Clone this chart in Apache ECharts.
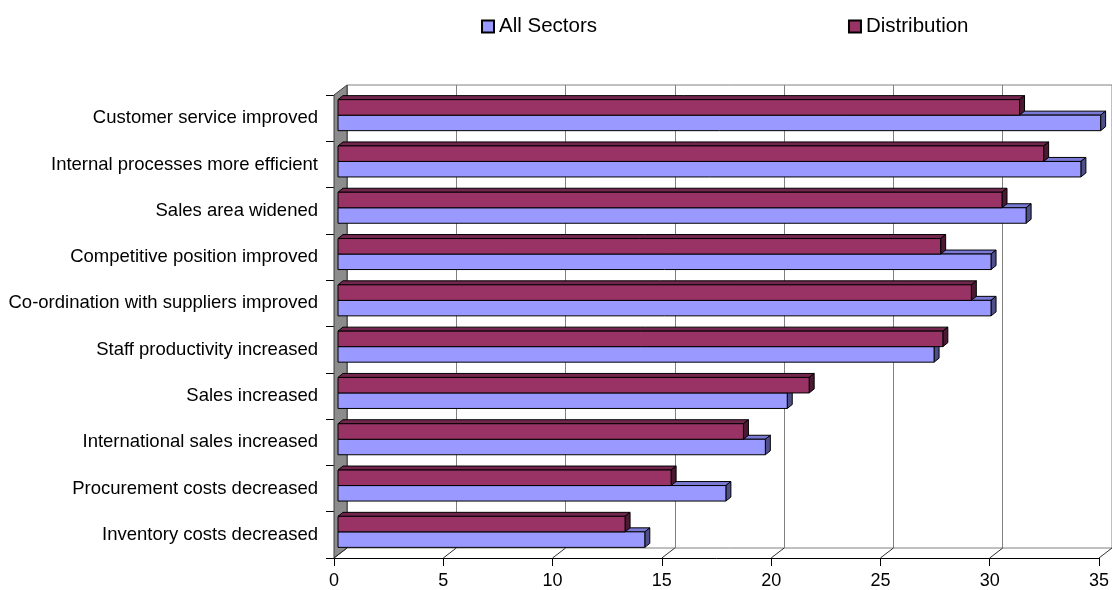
<!DOCTYPE html>
<html>
<head>
<meta charset="utf-8">
<title>E-business effects</title>
<script src="https://cdn.jsdelivr.net/npm/echarts@6/dist/echarts.min.js"></script>
<style>
  html, body { margin: 0; padding: 0; background: #fff; }
  #chart { width: 1112px; height: 590px; }
</style>
</head>
<body>
<div id="chart"></div>
<script>
// ---------------------------------------------------------------------------
// Data (top to bottom as in the picture)
// ---------------------------------------------------------------------------
const categories = [
  "Customer service improved",
  "Internal processes more efficient",
  "Sales area widened",
  "Competitive position improved",
  "Co-ordination with suppliers improved",
  "Staff productivity increased",
  "Sales increased",
  "International sales increased",
  "Procurement costs decreased",
  "Inventory costs decreased"
];
const allSectors   = [34.8, 33.9, 31.4, 29.8, 29.8, 27.2, 20.5, 19.5, 17.7, 14.0];
const distribution = [31.1, 32.2, 30.3, 27.5, 28.9, 27.6, 21.5, 18.5, 15.2, 13.1];
const xTicks = [0, 5, 10, 15, 20, 25, 30, 35];

const FONT = "Liberation Sans, Arial, sans-serif";
const DEPTH = [13, -10];   // front -> back wall offset
const BAR_DEPTH = [5, -4]; // bar prism depth

const chart = echarts.init(document.getElementById("chart"), null, { renderer: "canvas" });

// ---------------------------------------------------------------------------
// 3D-looking bar: front rect + top face + right face
// ---------------------------------------------------------------------------
function prismBar(upper, front, top, side) {
  return function (params, api) {
    const cat = api.value(1);
    const val = api.value(0);
    const start = api.coord([0, cat]);
    const end = api.coord([val, cat]);
    const h = api.size([0, 1])[1] * 0.335;
    const x0 = start[0], x1 = end[0];
    const y0 = upper ? start[1] - h : start[1];
    const y1 = y0 + h;
    const dx = BAR_DEPTH[0], dy = BAR_DEPTH[1];
    const edge = { stroke: "#000", lineWidth: 1 };
    return {
      type: "group",
      children: [
        { type: "polygon", shape: { points: [[x0, y0], [x0 + dx, y0 + dy], [x1 + dx, y0 + dy], [x1, y0]] },
          style: Object.assign({ fill: top }, edge) },
        { type: "polygon", shape: { points: [[x1, y0], [x1 + dx, y0 + dy], [x1 + dx, y1 + dy], [x1, y1]] },
          style: Object.assign({ fill: side }, edge) },
        { type: "rect", shape: { x: x0, y: y0, width: x1 - x0, height: h },
          style: Object.assign({ fill: front }, edge) }
      ]
    };
  };
}

// Left wall + floor diagonals, placed from the front axes
function frameRender(params, api) {
  const v = api.value(0);
  const band = api.size([0, 1])[1];
  const bottom = api.coord([v, categories.length - 1])[1] + band / 2;
  const x = api.coord([v, 0])[0];
  const children = [];
  if (v === 0) {
    const topY = api.coord([0, 0])[1] - band / 2;
    children.push({
      type: "polygon",
      shape: { points: [[x, topY], [x + DEPTH[0], topY + DEPTH[1]], [x + DEPTH[0], bottom + DEPTH[1]], [x, bottom]] },
      style: { fill: "#8c8c8c", stroke: "#404040", lineWidth: 1 }
    });
  }
  children.push({
    type: "line",
    shape: { x1: x, y1: bottom, x2: x + DEPTH[0], y2: bottom + DEPTH[1] },
    style: { stroke: "#303030", lineWidth: 1 }
  });
  return { type: "group", children: children };
}

const option = {
  backgroundColor: "#fff",
  animation: false,
  textStyle: { fontFamily: FONT },
  legend: {
    data: ["All Sectors", "Distribution"],
    left: 476,
    top: 11,
    itemGap: 251,
    itemWidth: 12,
    itemHeight: 12,
    icon: "rect",
    textStyle: { fontSize: 20.5, color: "#000", fontFamily: FONT }
  },
  grid: [
    { left: 334, top: 95, width: 767, height: 463 },                       // front
    { left: 347, top: 85, width: 767, height: 463, show: true,
      borderColor: "#808080", borderWidth: 1, backgroundColor: "transparent" }, // back wall
    { left: 338, top: 92, width: 767, height: 463 }                        // bars
  ],
  xAxis: [
    {
      gridIndex: 0, type: "value", min: 0, max: 35, interval: 5,
      axisLine: { show: true, lineStyle: { color: "#000" } },
      axisTick: { show: true, length: 8, lineStyle: { color: "#000" } },
      axisLabel: { fontSize: 18, color: "#000", margin: 14, fontFamily: FONT },
      splitLine: { show: false }
    },
    {
      gridIndex: 1, type: "value", min: 0, max: 35, interval: 5,
      axisLine: { show: false }, axisTick: { show: false }, axisLabel: { show: false },
      splitLine: { show: true, lineStyle: { color: "#808080", width: 1 } }
    },
    {
      gridIndex: 2, type: "value", min: 0, max: 35, interval: 5, show: false
    }
  ],
  yAxis: [
    {
      gridIndex: 0, type: "category", data: categories, inverse: true,
      axisLine: { show: true, lineStyle: { color: "#000" } },
      axisTick: { show: true, length: 8, lineStyle: { color: "#000" } },
      axisLabel: { fontSize: 18.5, color: "#000", margin: 16, fontFamily: FONT }
    },
    { gridIndex: 1, type: "category", data: categories, inverse: true, show: false },
    { gridIndex: 2, type: "category", data: categories, inverse: true, show: false }
  ],
  series: [
    {
      name: "frame", type: "custom", xAxisIndex: 0, yAxisIndex: 0,
      data: xTicks.map((v) => [v, 0]),
      renderItem: frameRender, silent: true, z: 1
    },
    {
      name: "All Sectors", type: "custom", xAxisIndex: 2, yAxisIndex: 2,
      data: allSectors.map((v, i) => [v, i]),
      encode: { x: 0, y: 1 },
      itemStyle: { color: "#9999FF", borderColor: "#000", borderWidth: 1 },
      renderItem: prismBar(false, "#9999FF", "#7a7ad6", "#4f4f8a"), z: 3
    },
    {
      name: "Distribution", type: "custom", xAxisIndex: 2, yAxisIndex: 2,
      data: distribution.map((v, i) => [v, i]),
      encode: { x: 0, y: 1 },
      itemStyle: { color: "#993366", borderColor: "#000", borderWidth: 1 },
      renderItem: prismBar(true, "#993366", "#73264d", "#4c1933"), z: 4
    }
  ]
};

chart.setOption(option);
window.addEventListener("resize", () => chart.resize());
</script>
</body>
</html>
